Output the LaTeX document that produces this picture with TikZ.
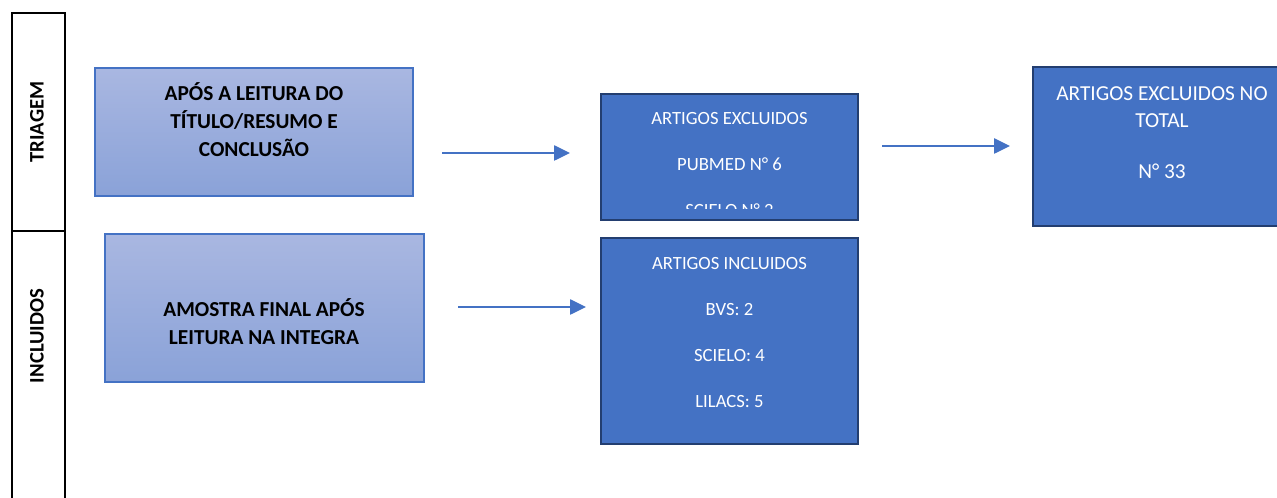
\documentclass[tikz,border=0pt]{standalone}
\usepackage{fontspec}
\setmainfont{Carlito}
\usetikzlibrary{arrows.meta,fit}
\definecolor{acc}{HTML}{4472C4}
\definecolor{navy}{HTML}{233E70}
\definecolor{gtop}{HTML}{A9B7E1}
\definecolor{gbot}{HTML}{8AA2D8}
\tikzset{
 lightbox/.style={draw=acc, line width=0.8pt, top color=gtop, bottom color=gbot, inner sep=0pt},
 darkbox/.style={draw=navy, fill=acc, line width=1.6pt, inner sep=0pt},
 boldtxt/.style={font=\bfseries\fontsize{16}{21}\selectfont, align=center, text=black, inner sep=0pt},
 whitetxt/.style={font=\fontsize{14}{34.5}\selectfont, align=center, text=white, inner sep=0pt},
 bigwhite/.style={font=\fontsize{16}{20.25}\selectfont, align=center, text=white, inner sep=0pt},
 lane/.style={font=\bfseries\fontsize{15.5}{18}\selectfont, rotate=90, inner sep=0pt},
 flow/.style={draw=acc, line width=1.1pt, -{Triangle[length=12pt,width=11.5pt]}},
 frame/.style={draw=black, line width=1.5pt},
}
\begin{document}
\begin{tikzpicture}[x=0.75pt,y=-0.75pt]
\useasboundingbox (0,0) rectangle (1277,498);
\clip (0,0) rectangle (1277,498);
% swimlane column
\draw[frame] (12,505) -- (12,13) -- (65,13) -- (65,505);
\draw[frame] (12,231) -- (65,231);
\node[lane] (lt) at (37,122) {TRIAGEM};
\node[lane] (li) at (37,336) {INCLUIDOS};
% light boxes
\node[lightbox, fit={(95,68) (413,196)}] (b1) {};
\node[boldtxt] (t1) at (254,120) {APÓS A LEITURA DO\\TÍTULO/RESUMO E\\CONCLUSÃO};
\node[lightbox, fit={(105,234) (424,382)}] (b2) {};
\node[boldtxt] (t2) at (264,322) {AMOSTRA FINAL APÓS\\LEITURA NA INTEGRA};
% dark boxes
\node[darkbox, fit={(601,94) (858,220)}] (b3) {};
\begin{scope}
\clip (604,97) rectangle (855,209);
\node[whitetxt, anchor=north] (t3) at (729.5,112.5) {ARTIGOS EXCLUIDOS\\PUBMED N° 6\\SCIELO N° 2};
\end{scope}
\node[darkbox, fit={(601,238) (858,444)}] (b4) {};
\node[whitetxt, anchor=north] (t4) at (729.5,257) {ARTIGOS INCLUIDOS\\BVS: 2\\SCIELO: 4\\LILACS: 5};
\node[darkbox, fit={(1033,67) (1295,226)}] (b5) {};
\node[bigwhite, anchor=north] (t5) at (1162,86) {ARTIGOS EXCLUIDOS NO\\TOTAL\\[18pt]N° 33};
% arrows
\coordinate (a1s) at (442,153); \coordinate (a1e) at (570,153);
\coordinate (a2s) at (882,146); \coordinate (a2e) at (1010,146);
\coordinate (a3s) at (458,307); \coordinate (a3e) at (586,307);
\draw[flow] (a1s) -- (a1e);
\draw[flow] (a2s) -- (a2e);
\draw[flow] (a3s) -- (a3e);
\end{tikzpicture}
\end{document}
